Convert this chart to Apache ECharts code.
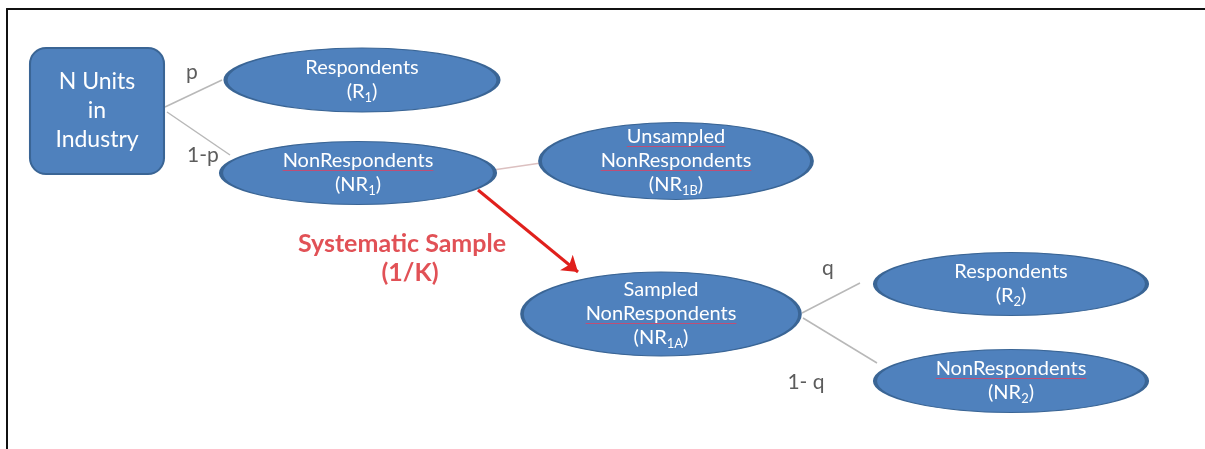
<!DOCTYPE html>
<html>
<head>
<meta charset="utf-8">
<script src="https://cdn.jsdelivr.net/npm/echarts@6/dist/echarts.min.js"></script>
<style>
html,body{margin:0;padding:0;background:#fff;}
#chart{width:1205px;height:449px;}
</style>
</head>
<body>
<div id="chart"></div>
<script>
// ---- content ----
const nodeNames = ['box', 'R1', 'NR1', 'NR1B', 'NR1A', 'R2', 'NR2'];
// each node: list of text lines; a line is [main text, subscript, closing]
const nodeText = [
  [['N Units'], ['in'], ['Industry']],
  [['Respondents'], ['(R', '1', ')']],
  [['NonRespondents'], ['(NR', '1', ')']],
  [['Unsampled'], ['NonRespondents'], ['(NR', '1B', ')']],
  [['Sampled'], ['NonRespondents'], ['(NR', '1A', ')']],
  [['Respondents'], ['(R', '2', ')']],
  [['NonRespondents'], ['(NR', '2', ')']]
];
// words carrying the red spell-check underline: [node index, line index]
const flaggedWords = [[2, 0], [3, 0], [3, 1], [4, 1], [6, 0]];
const branchLabels = ['p', '1-p', 'q', '1- q'];
const sampleLabel = ['Systematic Sample', '(1/K)'];
const edgePairs = [['box', 'R1'], ['box', 'NR1'], ['NR1', 'NR1B'], ['NR1', 'NR1A'], ['NR1A', 'R2'], ['NR1A', 'NR2']];

// ---- layout (diagram coordinates) ----
const nodeCenter = [[97, 111], [362, 80], [358, 173], [676, 161], [661, 314], [1011, 284], [1011, 381]];
const nodeSize = [[134, 126], [273, 64], [274, 63], [272, 77], [278, 84], [272, 63], [272, 63]];
const edgeCoords = [
  [[165, 107], [222, 80]],
  [[167, 112], [230, 155]],
  [[493, 170], [541, 163]],
  [[478, 190], [578, 272]],
  [[802, 313], [860, 283]],
  [[803, 318], [877, 363]]
];
const branchPos = [[192, 72], [203, 155], [828, 268], [806, 382]];
const samplePos = [[402, 244], [410, 273]];

const FONT = 'Lato';
const BLUE = '#4f81bd';
const BLUE_EDGE = '#3a6595';
const TEXT_SIZE = 20, LINE_H = 24;
const roundRectPath = 'path://M16,0H118A16,16,0,0,1,134,16V110A16,16,0,0,1,118,126H16A16,16,0,0,1,0,110V16A16,16,0,0,1,16,0Z';

function fmt(lines) {
  return lines.map(function (l) {
    if (l.length === 1) return '{t|' + l[0] + '}';
    return '{t|' + l[0] + '}{s|' + l[1] + '}{t|' + l[2] + '}';
  }).join('\n');
}

const shapeData = nodeNames.map(function (n, i) {
  const isBox = n === 'box';
  return {
    name: n,
    value: nodeCenter[i],
    symbol: isBox ? roundRectPath : 'circle',
    symbolSize: nodeSize[i],
    label: {
      formatter: fmt(nodeText[i]),
      rich: isBox ? {
        t: { fontSize: 23, lineHeight: 29, color: '#fff', fontFamily: FONT }
      } : {
        t: { fontSize: TEXT_SIZE, lineHeight: LINE_H, color: '#fff', fontFamily: FONT },
        s: { fontSize: 13, lineHeight: 15, verticalAlign: 'bottom', color: '#fff', fontFamily: FONT }
      }
    }
  };
});

const edgeData = edgePairs.map(function (p, i) {
  const d = { coords: edgeCoords[i] };
  if (p[0] === 'NR1' && p[1] === 'NR1B') d.lineStyle = { color: '#dcc0c0', width: 1.5 };
  if (p[0] === 'NR1' && p[1] === 'NR1A') {
    d.lineStyle = { color: '#e0201c', width: 3 };
    d.symbol = ['none', 'arrow'];
    d.symbolSize = [0, 15];
  }
  return d;
});

// underline segments placed under the flagged words, from the measured text width
const measureCtx = document.createElement('canvas').getContext('2d');
measureCtx.font = TEXT_SIZE + 'px ' + FONT;
const underlineData = flaggedWords.map(function (fw) {
  const ni = fw[0], li = fw[1];
  const lines = nodeText[ni];
  const word = lines[li][0];
  const w = measureCtx.measureText(word).width;
  const c = nodeCenter[ni];
  const lineCenter = c[1] - (lines.length - 1) * LINE_H / 2 + li * LINE_H;
  const y = lineCenter + 9;
  return { coords: [[c[0] - w / 2, y], [c[0] + w / 2, y]] };
});

const chart = echarts.init(document.getElementById('chart'));
chart.setOption({
  animation: false,
  backgroundColor: '#fff',
  grid: { left: 7, top: 9, right: 0, bottom: 0 },
  xAxis: {
    type: 'value', min: 7, max: 1205, position: 'top',
    axisLine: { show: true, onZero: false, lineStyle: { color: '#111', width: 2 } },
    axisTick: { show: false }, axisLabel: { show: false }, splitLine: { show: false }
  },
  yAxis: {
    type: 'value', min: 9, max: 449, inverse: true,
    axisLine: { show: true, onZero: false, lineStyle: { color: '#111', width: 2 } },
    axisTick: { show: false }, axisLabel: { show: false }, splitLine: { show: false }
  },
  series: [
    {
      type: 'lines', coordinateSystem: 'cartesian2d', z: 1,
      symbol: ['none', 'none'],
      lineStyle: { color: '#b8b8b8', width: 1.5, opacity: 1 },
      data: edgeData
    },
    {
      type: 'scatter', z: 2,
      itemStyle: { color: BLUE, borderColor: BLUE_EDGE, borderWidth: 2, opacity: 1 },
      label: { show: true, position: 'inside', align: 'center', verticalAlign: 'middle' },
      emphasis: { disabled: true },
      data: shapeData
    },
    {
      type: 'lines', coordinateSystem: 'cartesian2d', z: 4,
      symbol: ['none', 'none'],
      lineStyle: { color: '#d2456a', width: 1, opacity: 0.85 },
      data: underlineData
    },
    {
      type: 'scatter', z: 3, symbolSize: 0,
      label: { show: true, position: 'inside', color: '#333', fontSize: 21, fontFamily: FONT, formatter: '{b}' },
      data: branchLabels.map(function (t, i) { return { name: t, value: branchPos[i] }; })
    },
    {
      type: 'scatter', z: 3, symbolSize: 0,
      label: { show: true, position: 'inside', color: '#d9262c', fontSize: 25, fontWeight: 'bold', fontFamily: FONT, formatter: '{b}' },
      data: sampleLabel.map(function (t, i) { return { name: t, value: samplePos[i] }; })
    }
  ]
});
</script>
</body>
</html>
